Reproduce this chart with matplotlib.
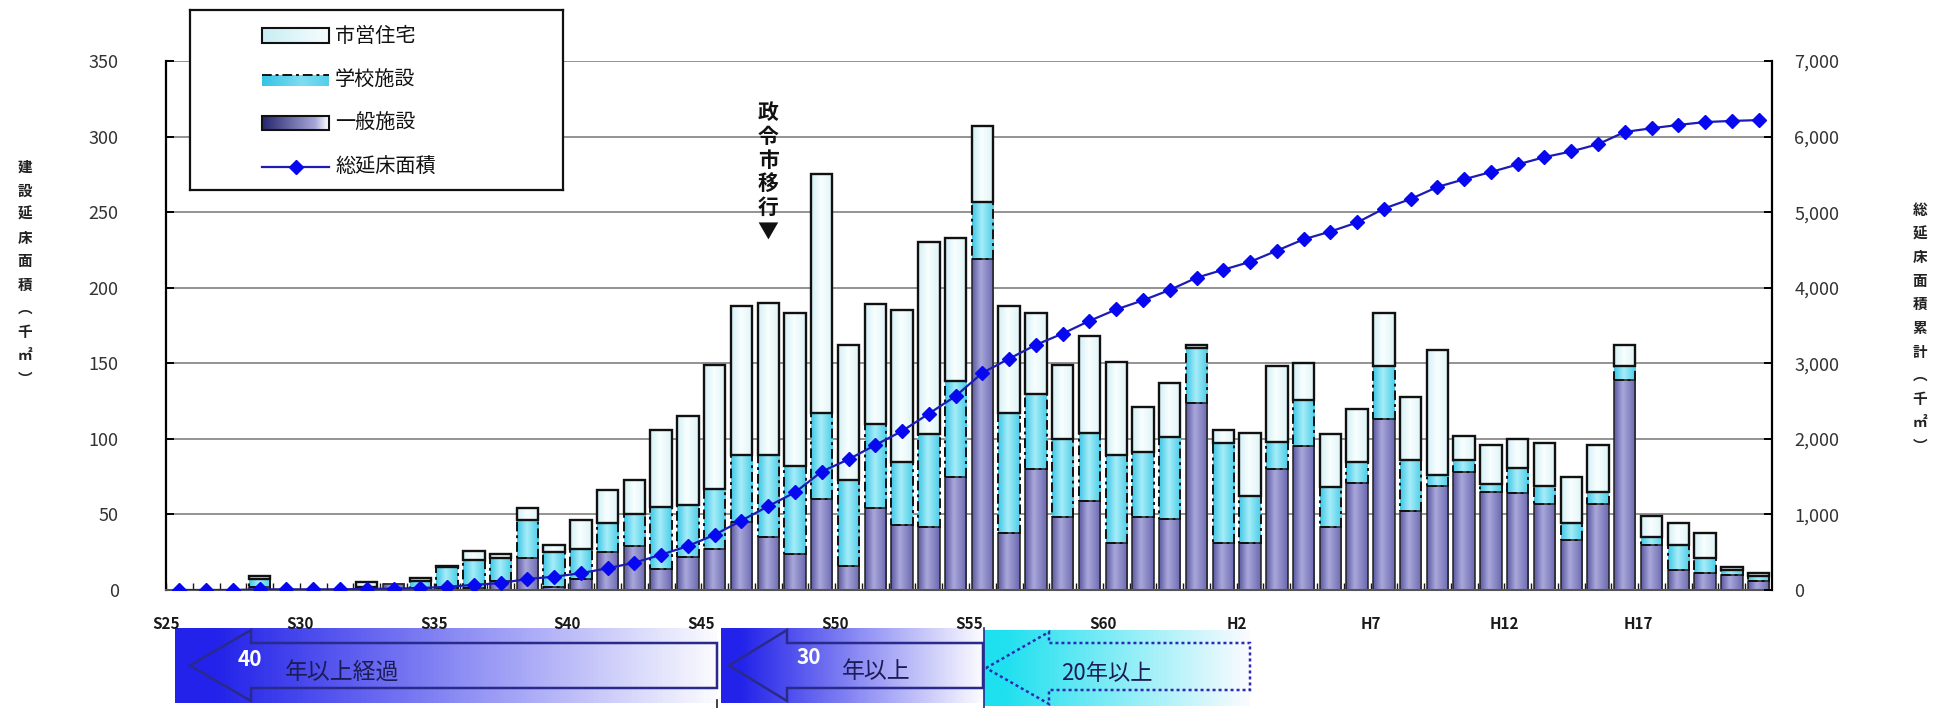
import numpy as np
import matplotlib
matplotlib.use("Agg")
import matplotlib.pyplot as plt
from matplotlib.colors import LinearSegmentedColormap
from matplotlib.patches import Polygon, Rectangle
from matplotlib.transforms import blended_transform_factory

plt.rcParams['font.family'] = ['Noto Sans CJK JP', 'DejaVu Sans']

# ---- data (千㎡) -------------------------------------------------------
fiscal_years = np.arange(1950, 2010)          # S25 ... H21
tick_years = [1950, 1955, 1960, 1965, 1970, 1975, 1980, 1985, 1990, 1995, 2000, 2005]
tick_labels = ['S25', 'S30', 'S35', 'S40', 'S45', 'S50', 'S55', 'S60',
               'H2', 'H7', 'H12', 'H17']

general = [0, 0, 0, 2, 0, 0, 0, 1, 4, 1,
           1, 1, 6, 21, 2, 7, 25, 29, 14, 22,
           27, 45, 35, 24, 60, 16, 54, 43, 42, 75,
           219, 38, 80, 48, 59, 31, 48, 47, 124, 31,
           31, 80, 95, 42, 71, 113, 52, 69, 78, 65,
           64, 57, 33, 57, 139, 30, 13, 11, 10, 6]
school = [0, 0, 0, 5, 0, 0, 0, 1, 0, 5,
          14, 19, 15, 25, 23, 20, 19, 21, 41, 34,
          40, 44, 54, 58, 57, 57, 56, 42, 61, 63,
          38, 79, 50, 52, 45, 58, 43, 54, 36, 66,
          31, 18, 31, 26, 14, 35, 34, 7, 8, 5,
          17, 12, 11, 8, 9, 5, 17, 10, 3, 3]
housing = [0, 0, 0, 2, 0, 0, 0, 3, 0, 2,
           1, 6, 3, 8, 5, 19, 22, 23, 51, 59,
           82, 99, 101, 101, 158, 89, 79, 100, 127, 95,
           50, 71, 53, 49, 64, 62, 30, 36, 2, 9,
           42, 50, 24, 35, 35, 35, 42, 83, 16, 26,
           19, 28, 31, 31, 14, 14, 14, 17, 2, 2]

general = np.array(general, float)
school = np.array(school, float)
housing = np.array(housing, float)
# 総延床面積: running total of the yearly floor area
cumulative = np.cumsum(general + school + housing)

# ---- figure ------------------------------------------------------------
W, H = 1948, 708
fig = plt.figure(figsize=(W / 100, H / 100), dpi=100)
fig.patch.set_facecolor('white')

L, R, T, B = 166, 1772, 61, 590
ax = fig.add_axes([L / W, 1 - B / H, (R - L) / W, (B - T) / H])
idx = np.arange(len(fiscal_years))


def shade(bars, stops, z):
    """Fill each bar with a horizontal gradient (cylinder look)."""
    cmap = LinearSegmentedColormap.from_list('bar', stops)
    grad = np.linspace(0, 1, 64)[None, :]
    for p in bars.patches:
        x, y = p.get_x(), p.get_y()
        w, h = p.get_width(), p.get_height()
        if h <= 0:
            p.set_visible(False)
            continue
        ax.imshow(grad, cmap=cmap, extent=(x, x + w, y, y + h),
                  aspect='auto', zorder=z, interpolation='bicubic')
        p.set_facecolor('none')
        p.set_zorder(z + 0.1)


bw = 0.8
b1 = ax.bar(idx, general, bw, color='#7b79bd', edgecolor='#222222', lw=1.1)
b2 = ax.bar(idx, school, bw, bottom=general, color='#62d6ee',
            edgecolor='#111111', lw=1.4, linestyle=(0, (5, 2, 1.5, 2)))
b3 = ax.bar(idx, housing, bw, bottom=general + school, color='#eefbfc',
            edgecolor='#111111', lw=1.7)
shade(b1, [(0, '#5a58a2'), (0.4, '#aaa8da'), (1, '#6a68b0')], 2)
shade(b2, [(0, '#3ec6e6'), (0.45, '#a6edf8'), (1, '#4ccde8')], 2)
shade(b3, [(0, '#d3f0f5'), (0.45, '#f8fefe'), (1, '#dff4f7')], 2)

ax.set_xlim(-0.5, len(idx) - 0.5)
ax.set_ylim(0, 350)
ax.set_yticks(np.arange(0, 351, 50))
ax.yaxis.grid(True, color='#8a8a8a', lw=1.3)
ax.set_axisbelow(True)

pos = [list(fiscal_years).index(y) - 0.5 for y in tick_years]
ax.set_xticks(pos)
ax.set_xticklabels(tick_labels, fontweight='bold')
ax.set_xticks(idx - 0.5, minor=True)
ax.tick_params(axis='x', which='both', direction='in', length=5, width=1.0,
               pad=19, labelsize=11, colors='#1a1a1a')
ax.tick_params(axis='y', direction='in', length=6, width=1.4, pad=34,
               labelsize=13, labelcolor='#333333')
for s in ('top', 'right'):
    ax.spines[s].set_visible(False)
ax.spines['left'].set_linewidth(1.6)
ax.spines['bottom'].set_color('#555555')
ax.spines['bottom'].set_linewidth(1.5)

ax2 = ax.twinx()
ax2.plot(idx, cumulative, color='#1c1cb4', lw=1.6, marker='D', ms=7,
         mfc='#0808f0', mec='#0808f0', zorder=5)
ax2.set_ylim(0, 7000)
ax2.set_yticks(np.arange(0, 7001, 1000))
ax2.yaxis.set_major_formatter(matplotlib.ticker.StrMethodFormatter('{x:,.0f}'))
ax2.tick_params(axis='y', direction='in', length=6, width=1.4, pad=16,
                labelsize=13, labelcolor='#333333')
for s in ('top', 'left', 'bottom'):
    ax2.spines[s].set_visible(False)
ax2.spines['right'].set_linewidth(1.6)

# ---- overlay in pixel coordinates --------------------------------------
ov = fig.add_axes([0, 0, 1, 1], zorder=-1)
ov.set_xlim(0, W)
ov.set_ylim(H, 0)
ov.axis('off')

# vertical axis titles
left_title = '建設延床面積︵千㎡︶'
for i, ch in enumerate(left_title):
    ov.text(25, 167 + 23.5 * i, ch, ha='center', va='center',
            fontsize=10.5, fontweight='bold', color='#222222')
right_title = '総延床面積累計︵千㎡︶'
for i, ch in enumerate(right_title):
    ov.text(1920, 210 + 23.6 * i, ch, ha='center', va='center',
            fontsize=10.5, fontweight='bold', color='#222222')

# designated-city marker
tr = blended_transform_factory(ax.transData, ov.transData)
for i, ch in enumerate('政令市移行▼'):
    ax.text(22, 113 + 23.6 * i, ch, transform=tr, ha='center', va='center',
            fontsize=15, fontweight='bold', color='#111111', zorder=6)


# age bands below the axis
def band(x0, x1, y0, y1, tip, head_x, sh0, sh1, c0, edge, ls, lw):
    cmap = LinearSegmentedColormap.from_list('band', [(0, c0), (0.07, c0), (1, '#fbfbff')])
    ov.imshow(np.linspace(0, 1, 128)[None, :], cmap=cmap, aspect='auto',
              extent=(x0, x1, y1, y0), zorder=1)
    pts = [(x0 + tip, (y0 + y1) / 2), (head_x, y0 + 2), (head_x, sh0), (x1, sh0),
           (x1, sh1), (head_x, sh1), (head_x, y1 - 2)]
    ov.add_patch(Polygon(pts, closed=True, fill=False, edgecolor=edge,
                         lw=lw, linestyle=ls, zorder=2))


band(175, 717, 628, 703, 15, 251, 643, 688, '#2222ea', '#2a2a8c', '-', 1.8)
band(721, 983, 628, 703, 8, 787, 643, 688, '#2222ea', '#2a2a8c', '-', 1.8)
band(984, 1250, 630, 706, 2, 1049, 643, 690, '#1ee0ef', '#2a2ab4', (0, (1.2, 1.2)), 1.8)
ov.plot([717, 717], [700, 708], color='#222222', lw=1.2)
ov.plot([984, 984], [628, 708], color='#2a2a8c', lw=1.2)

ov.text(250, 659, '40', color='white', fontsize=15, fontweight='bold',
        ha='center', va='center', zorder=3)
ov.text(285, 672, '年以上経過', color='#1b1b55', fontsize=16.5,
        ha='left', va='center', zorder=3)
ov.text(809, 657, '30', color='white', fontsize=15, fontweight='bold',
        ha='center', va='center', zorder=3)
ov.text(842, 672, '年以上', color='#1b1b55', fontsize=16.5,
        ha='left', va='center', zorder=3)
ov.text(1061, 673, '20年以上', color='#1b1b55', fontsize=16,
        ha='left', va='center', zorder=3)

# ---- legend box --------------------------------------------------------
lg = fig.add_axes([190 / W, 1 - 190 / H, 373 / W, 180 / H], zorder=10)
lg.set_xlim(0, 373)
lg.set_ylim(180, 0)
lg.set_xticks([])
lg.set_yticks([])
lg.set_facecolor('white')
for s in lg.spines.values():
    s.set_linewidth(1.6)
    s.set_color('#111111')


def grad_patch(y0, y1, stops, edge=None, ls='-'):
    cmap = LinearSegmentedColormap.from_list('lg', stops)
    lg.imshow(np.linspace(0, 1, 64)[None, :], cmap=cmap, aspect='auto',
              extent=(72, 139, y1, y0), zorder=1)
    if edge:
        lg.add_patch(Rectangle((72, y0), 67, y1 - y0, fill=False,
                               edgecolor=edge, lw=1.5, linestyle=ls, zorder=2))


grad_patch(18, 33, [(0, '#c8eef4'), (1, '#f6fdfe')], '#111111')
grad_patch(65, 76, [(0, '#35c4e6'), (0.6, '#7fdcf1'), (1, '#54cfe9')])
lg.plot([72, 139], [65, 65], color='#111111', lw=1.4, linestyle=(0, (5, 2, 1.5, 2)), zorder=2)
grad_patch(106, 120, [(0, '#26266e'), (0.8, '#a6a6d8'), (1, '#ffffff')], '#111111')
lg.plot([72, 139], [157, 157], color='#1c1cb4', lw=1.6, zorder=2)
lg.plot([105.5], [157], marker='D', ms=7.5, color='#0808f0', zorder=3)

for y, name in zip([26, 70, 113, 157], ['市営住宅', '学校施設', '一般施設', '総延床面積']):
    lg.text(145, y, name, fontsize=14.5, ha='left', va='center', color='#111111')
lg.set_xlim(0, 373)
lg.set_ylim(180, 0)

fig.savefig('out.png', dpi=100)
